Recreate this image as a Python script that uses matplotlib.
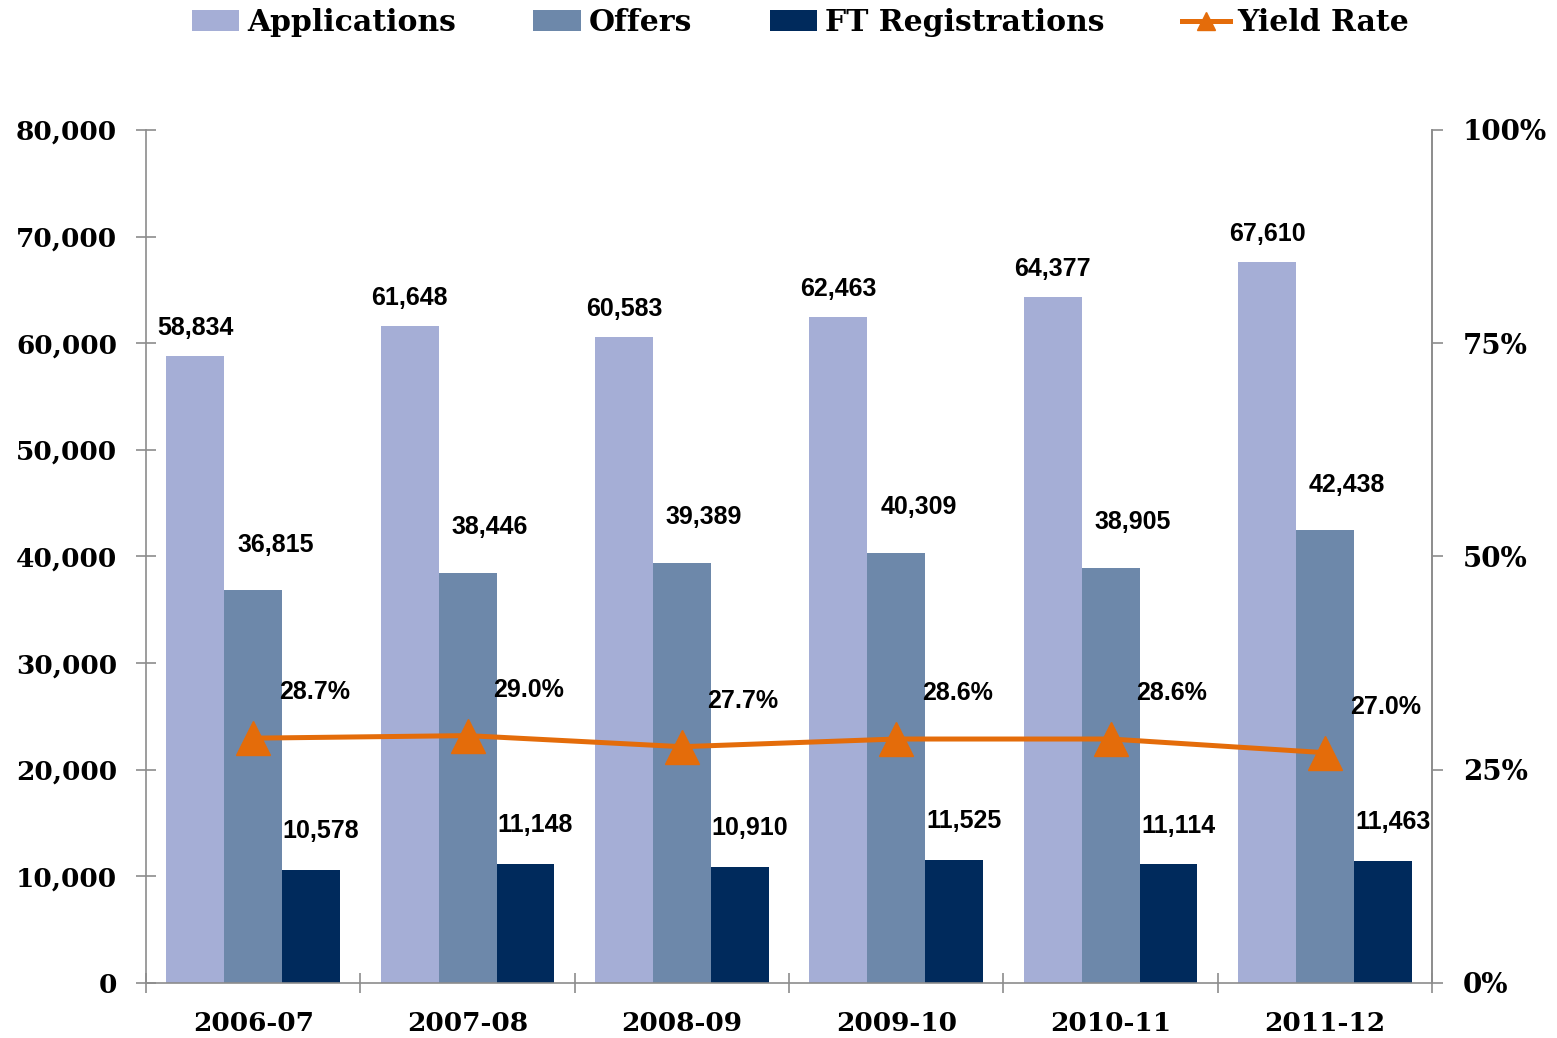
import matplotlib.pyplot as plt
import numpy as np
from matplotlib.ticker import FuncFormatter, FixedLocator

years = ['2006-07', '2007-08', '2008-09', '2009-10', '2010-11', '2011-12']
applications = [58834, 61648, 60583, 62463, 64377, 67610]
offers = [36815, 38446, 39389, 40309, 38905, 42438]
ft_regs = [10578, 11148, 10910, 11525, 11114, 11463]
yield_rate = [28.7, 29.0, 27.7, 28.6, 28.6, 27.0]

c_app = '#A5AED6'
c_off = '#6D88AA'
c_ft = '#002A5C'
c_yield = '#E46C0A'
axis_grey = '#8C8C8C'

serif = ['DejaVu Serif']
narrow = ['Liberation Sans', 'DejaVu Sans']

fig = plt.figure(figsize=(15.57, 10.38), dpi=100)
ax = fig.add_axes([0.0938, 0.053, 0.826, 0.8218])

x = np.arange(len(years))
w = 0.27
b1 = ax.bar(x - w, applications, w, color=c_app, label='Applications')
b2 = ax.bar(x, offers, w, color=c_off, label='Offers')
b3 = ax.bar(x + w, ft_regs, w, color=c_ft, label='FT Registrations')

ax.set_xlim(-0.5, len(years) - 0.5)
ax.set_ylim(0, 80000)
ax.set_yticks(np.arange(0, 80001, 10000))
ax.yaxis.set_major_formatter(FuncFormatter(lambda v, p: f'{int(v):,}'))
ax.set_xticks(x)
ax.set_xticklabels(years)
ax.xaxis.set_minor_locator(FixedLocator(np.arange(-0.5, len(years), 1.0)))

ax.spines['top'].set_visible(False)
for s in ['left', 'bottom', 'right']:
    ax.spines[s].set_color(axis_grey)
    ax.spines[s].set_linewidth(1.2)

ax.tick_params(axis='y', direction='inout', length=14, width=1.2, color=axis_grey, pad=14)
ax.tick_params(axis='x', which='major', length=0, pad=20)
ax.tick_params(axis='x', which='minor', direction='inout', length=14, width=1.2, color=axis_grey)
for lbl in ax.get_yticklabels() + ax.get_xticklabels():
    lbl.set_family(serif)
    lbl.set_fontweight('bold')
    lbl.set_fontsize(19)

# data labels
lab_kw = dict(ha='center', va='center', fontsize=18, fontweight='bold', family=narrow,
              textcoords='offset points')
for i in range(len(years)):
    ax.annotate(f'{applications[i]:,}', (x[i] - w, applications[i]), xytext=(0, 20), **lab_kw)
    ax.annotate(f'{offers[i]:,}', (x[i], offers[i]), xytext=(16, 33), **lab_kw)
    ax.annotate(f'{ft_regs[i]:,}', (x[i] + w, ft_regs[i]), xytext=(7, 28), **lab_kw)

ax2 = ax.twinx()
ax2.set_ylim(0, 1)
ax2.set_yticks([0, 0.25, 0.5, 0.75, 1.0])
ax2.yaxis.set_major_formatter(FuncFormatter(lambda v, p: f'{v * 100:.0f}%'))
for s in ['top', 'left', 'bottom']:
    ax2.spines[s].set_visible(False)
ax2.spines['right'].set_color(axis_grey)
ax2.spines['right'].set_linewidth(1.2)
ax2.tick_params(axis='y', direction='out', length=8, width=1.2, color=axis_grey, pad=14)
for lbl in ax2.get_yticklabels():
    lbl.set_family(serif)
    lbl.set_fontweight('bold')
    lbl.set_fontsize(20)

yr = np.array(yield_rate) / 100
ln, = ax2.plot(x, yr, color=c_yield, lw=3.6, marker='^', markersize=24, label='Yield Rate')
for i in range(len(years)):
    ax2.annotate(f'{yield_rate[i]:.1f}%', (x[i], yr[i]), xytext=(44, 33), **lab_kw)

fig.legend([b1, b2, b3, ln], ['Applications', 'Offers', 'FT Registrations', 'Yield Rate'],
           loc='upper center', bbox_to_anchor=(0.514, 1.018), ncol=4, frameon=False,
           prop={'family': serif, 'weight': 'bold', 'size': 21.5},
           handlelength=1.6, handletextpad=0.25, columnspacing=2.6, markerscale=0.55)

fig.savefig('out.png', dpi=100)
